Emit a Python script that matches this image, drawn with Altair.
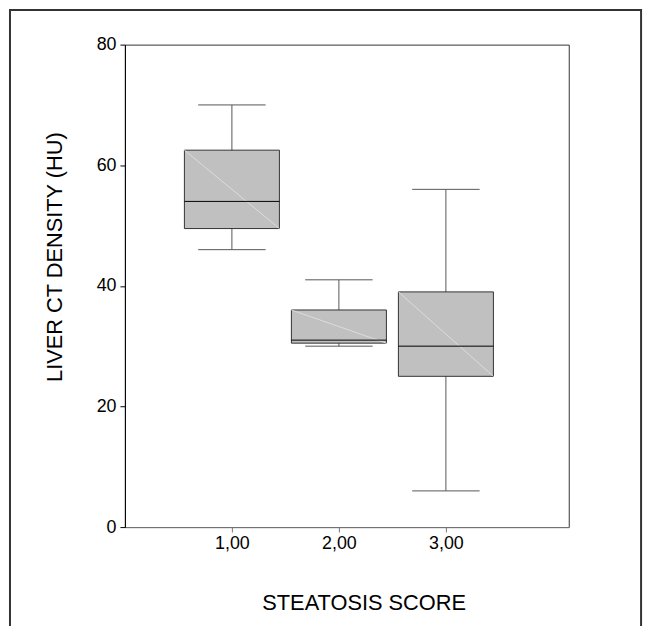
import altair as alt
import pandas as pd

# ---- data ----
categories = [1, 2, 3]
lower_whisker = [46, 30, 6]
q1 = [49.5, 30.5, 25]
median = [54, 31, 30]
q3 = [62.5, 36, 39]
upper_whisker = [70, 41, 56]
y_ticks = [0, 20, 40, 60, 80]

df = pd.DataFrame({
    "cat": categories,
    "lo": lower_whisker,
    "q1": q1,
    "med": median,
    "q3": q3,
    "hi": upper_whisker,
})

FONT = "Liberation Sans"
BOX_HALF = 0.444
CAP_HALF = 0.315

xscale = alt.Scale(domain=[0, 4.148], nice=False, zero=False)
yscale = alt.Scale(domain=[0, 80], nice=False, zero=False)

xaxis = alt.Axis(
    title="STEATOSIS SCORE", values=categories,
    labelExpr="replace(format(datum.value, '.2f'), '.', ',')",
    grid=False, domainColor="#777", tickColor="#777", tickSize=5,
    labelFontSize=18, labelPadding=3, labelFont=FONT, labelColor="black",
    titleFont=FONT, titleFontSize=22, titleFontWeight="normal", titleColor="black",
    titleX=241, titleY=83, titleBaseline="alphabetic", titleAlign="center",
)
yaxis = alt.Axis(
    title="LIVER CT DENSITY (HU)", values=y_ticks,
    grid=False, domainColor="black", tickColor="black", tickSize=5,
    labelFontSize=18, labelPadding=4, labelFont=FONT, labelColor="black",
    titleFont=FONT, titleFontSize=22, titleFontWeight="normal", titleColor="black",
    titleX=-64, titleY=214, titleBaseline="alphabetic", titleAlign="center", titleAngle=270,
)

base = alt.Chart(df).transform_calculate(
    xl=f"datum.cat - {BOX_HALF}",
    xr=f"datum.cat + {BOX_HALF}",
    cl=f"datum.cat - {CAP_HALF}",
    cr=f"datum.cat + {CAP_HALF}",
)

def X(field):
    return alt.X(f"{field}:Q", scale=xscale, axis=xaxis)

def Y(field):
    return alt.Y(f"{field}:Q", scale=yscale, axis=yaxis)

frame = alt.Chart(pd.DataFrame({"a": [0]})).mark_rect(
    filled=False, stroke="#333", strokeWidth=2
).encode(
    x=alt.value(-116), x2=alt.value(521), y=alt.value(-35), y2=alt.value(640)
)

whisker = base.mark_rule(color="#555", strokeWidth=1).encode(
    x=X("cat"), y=Y("lo"), y2="hi:Q"
)
cap_lo = base.mark_rule(color="#555", strokeWidth=1).encode(
    x=X("cl"), x2="cr:Q", y=Y("lo")
)
cap_hi = base.mark_rule(color="#555", strokeWidth=1).encode(
    x=X("cl"), x2="cr:Q", y=Y("hi")
)
box = base.mark_rect(fill="#c0c0c0", stroke="#333", strokeWidth=1).encode(
    x=X("xl"), x2="xr:Q", y=Y("q1"), y2="q3:Q"
)
diag = base.mark_rule(color="#dcdcdc", strokeWidth=1).encode(
    x=X("xl"), x2="xr:Q", y=Y("q3"), y2="q1:Q"
)
med = base.mark_rule(color="black", strokeWidth=1).encode(
    x=X("xl"), x2="xr:Q", y=Y("med")
)

chart = alt.layer(frame, whisker, cap_lo, cap_hi, box, diag, med).properties(
    width=448, height=487,
    padding={"left": 118, "top": 34, "right": 80, "bottom": 110},
    autosize="none",
).configure_view(stroke="#333", strokeWidth=1)

chart.save("out.html", embed_options={"renderer": "svg", "actions": False})
